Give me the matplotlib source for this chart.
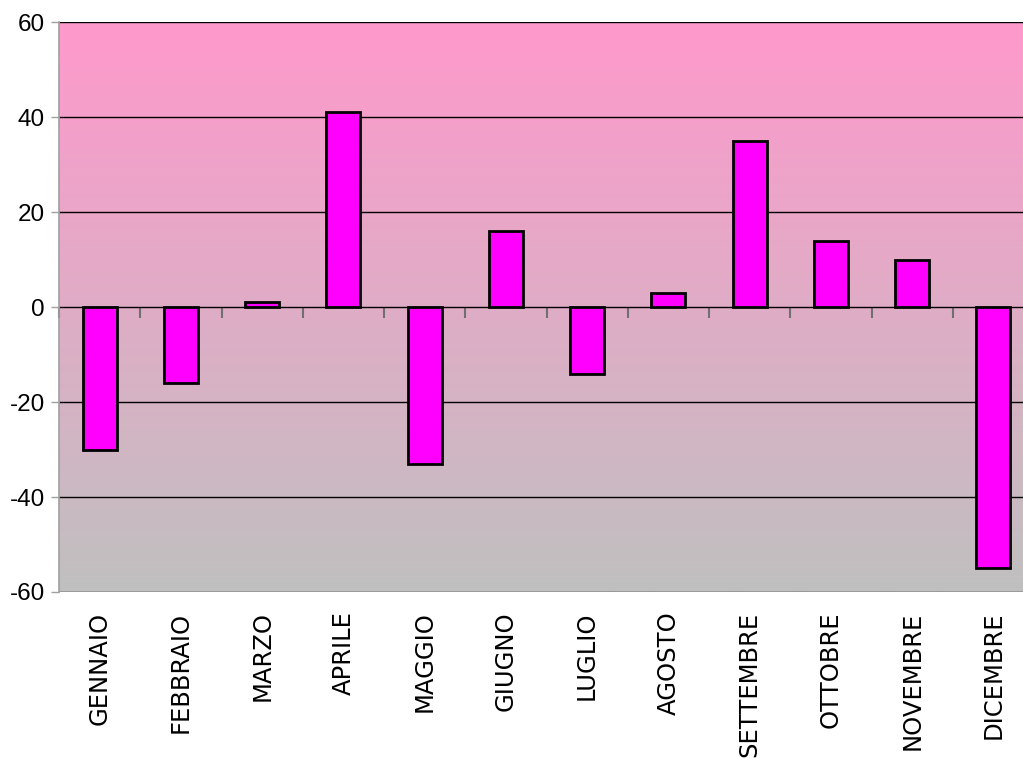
import numpy as np
import matplotlib
matplotlib.use("Agg")
import matplotlib.pyplot as plt
from matplotlib.colors import LinearSegmentedColormap

months = ["GENNAIO", "FEBBRAIO", "MARZO", "APRILE", "MAGGIO", "GIUGNO",
          "LUGLIO", "AGOSTO", "SETTEMBRE", "OTTOBRE", "NOVEMBRE", "DICEMBRE"]
values = [-30, -16, 1, 41, -33, 16, -14, 3, 35, 14, 10, -55]
yticks = [-60, -40, -20, 0, 20, 40, 60]

fig = plt.figure(figsize=(10.23, 7.58), dpi=100)
ax = fig.add_axes([59/1023, 1-592/758, 975/1023, 570/758])

n = len(months)
x = np.arange(n)
ax.set_xlim(-0.5, n - 0.5)
ax.set_ylim(-60, 60)

# gradient background
cmap = LinearSegmentedColormap.from_list("bg", ["#c0c0c0", "#ff99cc"])
grad = np.linspace(0, 1, 256).reshape(-1, 1)
ax.imshow(grad, cmap=cmap, aspect="auto", origin="lower",
          extent=(-0.5, n - 0.5, -60, 60), zorder=0)

for yv in yticks:
    ax.axhline(yv, color="black", lw=1.0, zorder=1)

ax.bar(x, values, width=0.42, color="#ff00ff", edgecolor="black",
       linewidth=2.0, zorder=3)

ax.set_yticks(yticks)
ax.set_yticklabels([str(v) for v in yticks], fontsize=17.5, family="Liberation Sans")
ax.tick_params(axis="y", direction="out", length=6, color="#a0a0a0", width=1, pad=4)

for s in ["top", "right", "bottom"]:
    ax.spines[s].set_visible(False)
ax.spines["left"].set_color("#a0a0a0")
ax.spines["left"].set_linewidth(1.2)

# main x axis: category labels at bottom
ax.set_xticks(x)
ax.set_xticklabels(months, rotation=90, fontsize=17.5, va="top", ha="center")
ax.tick_params(axis="x", length=0, pad=14)

# zero axis tick marks at category boundaries
sec = ax.secondary_xaxis(0.5)
sec.set_xticks(np.arange(n + 1) - 0.5)
sec.set_xticklabels([])
sec.tick_params(axis="x", direction="in", length=8, color="#707070", width=1.5)
sec.spines["bottom"].set_visible(False)
sec.spines["top"].set_visible(False)

fig.savefig("out.png", dpi=100)
